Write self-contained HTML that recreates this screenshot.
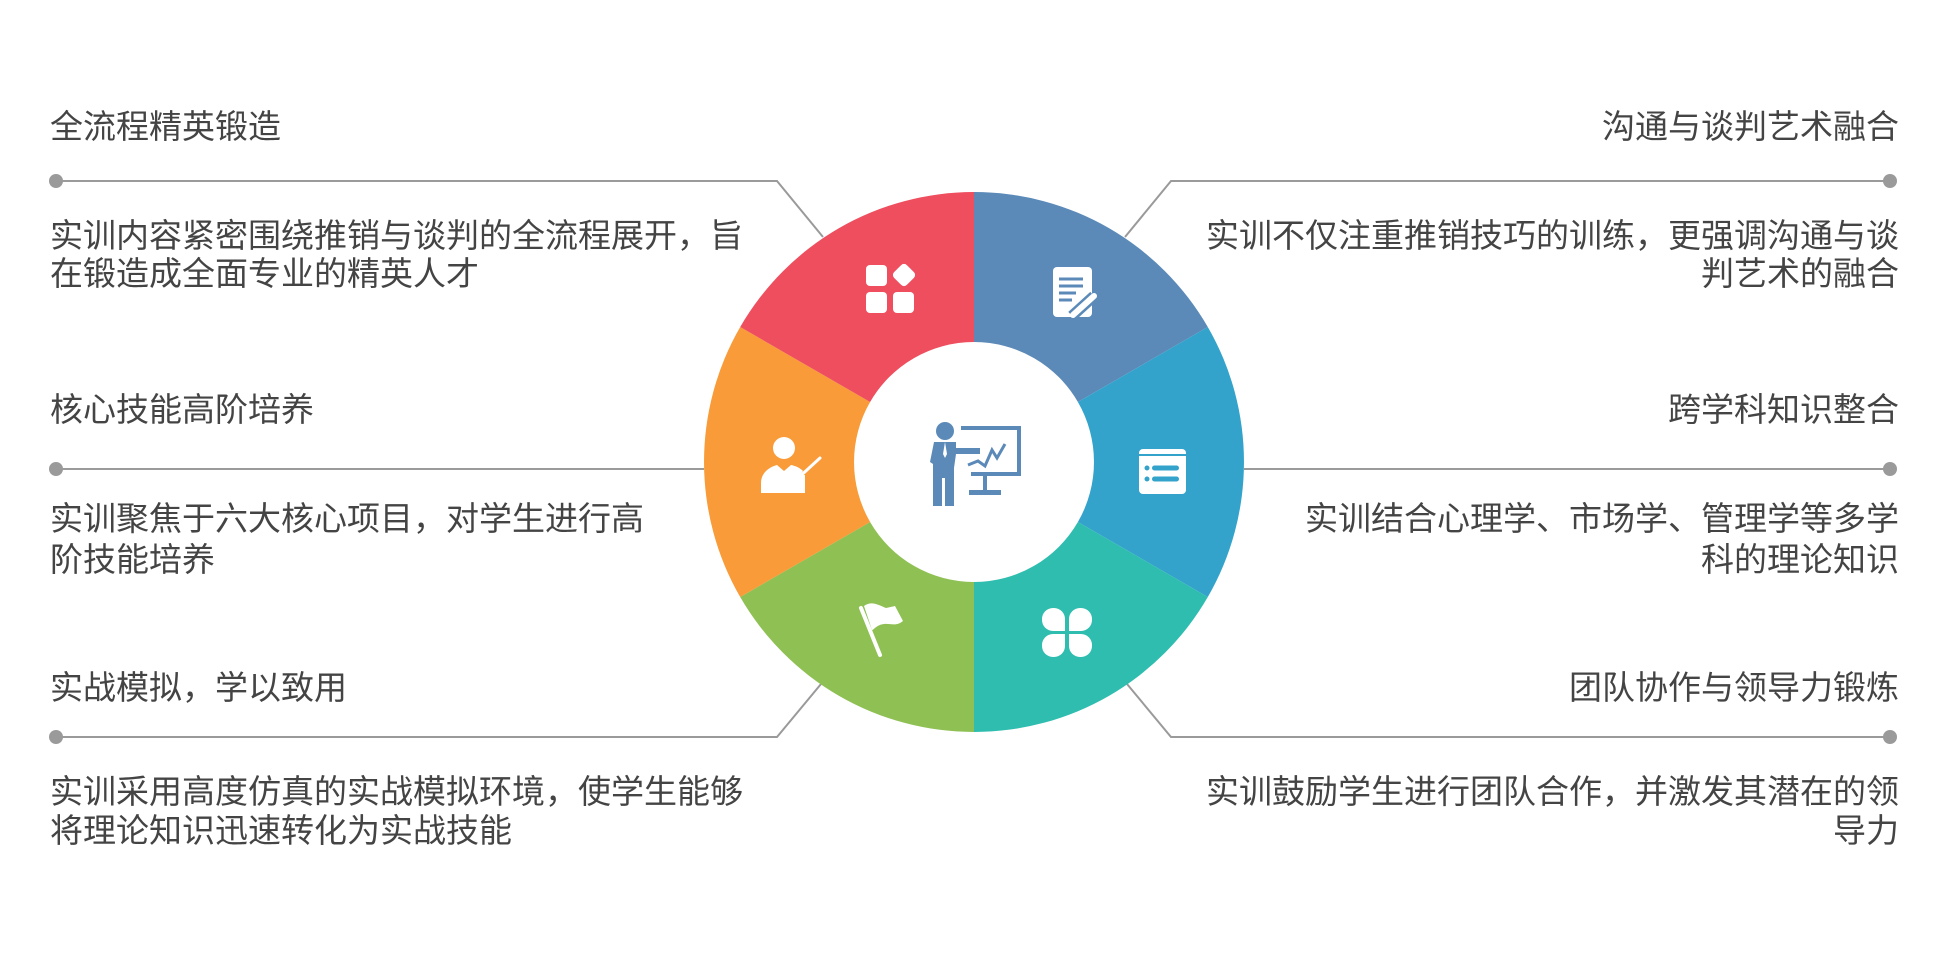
<!DOCTYPE html>
<html><head><meta charset="utf-8"><style>
html,body{margin:0;padding:0;background:#fff;}
svg{display:block;}
text{font-family:"Liberation Sans","Noto Sans CJK SC",sans-serif;font-size:33px;fill:#444;}
</style></head><body>
<svg width="1956" height="959" viewBox="0 0 1956 959" xmlns="http://www.w3.org/2000/svg">
<g stroke="#9a9a9a" stroke-width="2" fill="none">
<polyline points="56,181 777,181 823,237"/>
<polyline points="56,469 704,469"/>
<polyline points="56,737 777,737 821,684"/>
<polyline points="1890,181 1171,181 1125,237"/>
<polyline points="1890,469 1244,469"/>
<polyline points="1890,737 1171,737 1127,684"/>
</g>
<g fill="#9a9a9a">
<circle cx="56" cy="181" r="7"/><circle cx="56" cy="469" r="7"/><circle cx="56" cy="737" r="7"/>
<circle cx="1890" cy="181" r="7"/><circle cx="1890" cy="469" r="7"/><circle cx="1890" cy="737" r="7"/>
</g>
<path fill="#5B8AB8" d="M974,192 A270,270 0 0 1 1207.8,327 L1077.9,402 A120,120 0 0 0 974,342 Z"/>
<path fill="#33A3CC" d="M1207.8,327 A270,270 0 0 1 1207.8,597 L1077.9,522 A120,120 0 0 0 1077.9,402 Z"/>
<path fill="#2EBDAF" d="M1207.8,597 A270,270 0 0 1 974,732 L974,582 A120,120 0 0 0 1077.9,522 Z"/>
<path fill="#8FC054" d="M974,732 A270,270 0 0 1 740.2,597 L870.1,522 A120,120 0 0 0 974,582 Z"/>
<path fill="#F89B38" d="M740.2,597 A270,270 0 0 1 740.2,327 L870.1,402 A120,120 0 0 0 870.1,522 Z"/>
<path fill="#EE4E5E" d="M740.2,327 A270,270 0 0 1 974,192 L974,342 A120,120 0 0 0 870.1,402 Z"/>
<g fill="#fff">
<rect x="866" y="265" width="21" height="21" rx="4"/>
<rect x="866" y="292" width="21" height="21" rx="4"/>
<rect x="893" y="292" width="21" height="21" rx="4"/>
<rect x="895" y="266" width="18" height="18" rx="4" transform="rotate(45 904 275)"/>
</g>
<g>
<rect x="1053" y="267" width="39" height="50" rx="4" fill="#fff"/>
<g stroke="#5B8AB8" stroke-width="3"><line x1="1059" y1="279" x2="1083" y2="279"/><line x1="1059" y1="286" x2="1083" y2="286"/><line x1="1059" y1="293" x2="1076" y2="293"/><line x1="1059" y1="300" x2="1072" y2="300"/></g>
<line x1="1072" y1="316" x2="1094" y2="296" stroke="#5B8AB8" stroke-width="11"/>
<line x1="1073" y1="315" x2="1094" y2="296" stroke="#fff" stroke-width="6" stroke-linecap="round"/>
</g>
<g>
<rect x="1139" y="449" width="47" height="45" rx="4" fill="#fff"/>
<line x1="1139" y1="455" x2="1186" y2="455" stroke="#33A3CC" stroke-width="2"/>
<g fill="#33A3CC"><circle cx="1147" cy="468" r="2.5"/><circle cx="1147" cy="479" r="2.5"/>
<rect x="1152" y="465.5" width="27" height="5" rx="2.5"/><rect x="1152" y="476.5" width="27" height="5" rx="2.5"/></g>
</g>
<!-- teal clover -->
<g fill="#fff">
<rect x="1042" y="608" width="23" height="23" rx="11"/><rect x="1054" y="620" width="11" height="11"/>
<rect x="1069" y="608" width="23" height="23" rx="11"/><rect x="1069" y="620" width="11" height="11"/>
<rect x="1042" y="634" width="23" height="23" rx="11"/><rect x="1054" y="634" width="11" height="11"/>
<rect x="1069" y="634" width="23" height="23" rx="11"/><rect x="1069" y="634" width="11" height="11"/>
</g>
<g>
<line x1="861" y1="608" x2="880" y2="655" stroke="#fff" stroke-width="4" stroke-linecap="round"/>
<path d="M864,606 C872,600 880,606 886,608 L895,606 L903,621 C896,627 890,623 884,624 C876,625 874,630 872,630 Z" fill="#fff"/>
</g>
<g fill="#fff">
<circle cx="784" cy="448" r="11"/>
<path d="M761,493 v-10 c0,-10 8,-16 16,-18 l7,6 l7,-6 c5,1 9,3 12,6 l-3,4 h5 v18 z"/>
<line x1="796" y1="480" x2="820" y2="458" stroke="#fff" stroke-width="3" stroke-linecap="round"/>
</g>
<g fill="#5B8AB8">
<circle cx="945" cy="431" r="9"/>
<path d="M934,442 h22 l0,6 h24 v6 h-24 l-2,14 v38 h-9 v-28 h-3 v28 h-9 v-42 l-3,-2 z"/>
<path d="M961,426 h60 v50 h-50 v-4 h46 v-42 h-56 z"/>
<rect x="983" y="476" width="4" height="14"/>
<rect x="969" y="490" width="32" height="5"/>
<polyline points="968,465 978,461 985,466 992,450 997,458 1005,444" fill="none" stroke="#5B8AB8" stroke-width="3"/>
</g>
<path d="M945,442 l-2,12 l2,4 l2,-4 z" fill="#fff"/>
<text x="50" y="138">全流程精英锻造</text>
<text x="50" y="247">实训内容紧密围绕推销与谈判的全流程展开，旨</text>
<text x="50" y="285">在锻造成全面专业的精英人才</text>
<text x="50" y="421">核心技能高阶培养</text>
<text x="50" y="530">实训聚焦于六大核心项目，对学生进行高</text>
<text x="50" y="571">阶技能培养</text>
<text x="50" y="699">实战模拟，学以致用</text>
<text x="50" y="803">实训采用高度仿真的实战模拟环境，使学生能够</text>
<text x="50" y="842">将理论知识迅速转化为实战技能</text>
<g text-anchor="end">
<text x="1899" y="138">沟通与谈判艺术融合</text>
<text x="1899" y="247">实训不仅注重推销技巧的训练，更强调沟通与谈</text>
<text x="1899" y="285">判艺术的融合</text>
<text x="1899" y="421">跨学科知识整合</text>
<text x="1899" y="530">实训结合心理学、市场学、管理学等多学</text>
<text x="1899" y="571">科的理论知识</text>
<text x="1899" y="699">团队协作与领导力锻炼</text>
<text x="1899" y="803">实训鼓励学生进行团队合作，并激发其潜在的领</text>
<text x="1899" y="842">导力</text>
</g>
</svg>
</body></html>
